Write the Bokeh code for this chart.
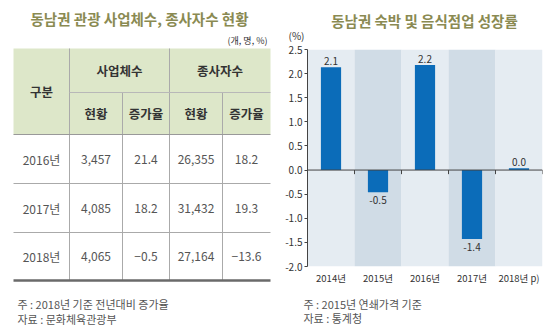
from bokeh.plotting import figure
from bokeh.models import (ColumnDataSource, Range1d, FactorRange, Span,
                          FixedTicker, PrintfTickFormatter)
from bokeh.layouts import row, column
from bokeh.transform import dodge
from bokeh.core.properties import value
from bokeh.embed import file_html
from bokeh.resources import INLINE

FONT = "Noto Sans CJK KR"

# ---------------- data: table ----------------
table_title = "동남권 관광 사업체수, 종사자수 현황"
unit_text = "(개, 명, %)"
group_headers = ["사업체수", "종사자수"]
sub_headers = ["현황", "증가율", "현황", "증가율"]
years = ["2016년", "2017년", "2018년"]
biz_count = [3457, 4085, 4065]
biz_rate = [21.4, 18.2, -0.5]
emp_count = [26355, 31432, 27164]
emp_rate = [18.2, 19.3, -13.6]
table_notes = ["주 : 2018년 기준 전년대비 증가율", "자료 : 문화체육관광부"]

# ---------------- data: chart ----------------
chart_title = "동남권 숙박 및 음식점업 성장률"
unit_chart = "(%)"
categories = ["2014년", "2015년", "2016년", "2017년", "2018년 p)"]
growth = [2.13, -0.46, 2.18, -1.43, 0.04]
y_ticks = [-2.0, -1.5, -1.0, -0.5, 0.0, 0.5, 1.0, 1.5, 2.0, 2.5]
chart_notes = ["주 : 2015년 연쇄가격 기준", "자료 : 통계청"]

TITLE_COLOR = "#8a8a52"
TEXT = "#555555"
DARK = "#333333"


def pixel_fig(w, h):
    f = figure(width=w, height=h, x_range=Range1d(0, w), y_range=Range1d(h, 0),
               output_backend="svg", toolbar_location=None, min_border=0,
               x_axis_location=None, y_axis_location=None)
    f.grid.visible = False
    f.outline_line_color = None
    return f


# =============== left: table ===============
W, H = 275, 331
t = pixel_fig(W, H)

L, R = 13, 270
c1, c2, c3, c4 = 69, 122, 169, 222
top, hmid, hbot = 48, 92, 134
row_lines = [183, 232]
bottom = 280

t.quad(left=L, right=R, top=top, bottom=hbot, fill_color="#dde7c9", line_color=None)

t.segment(x0=[c1, c3, c2, c4], y0=[top, top, hmid, hmid],
          x1=[c1, c3, c2, c4], y1=[bottom] * 4, line_color="#aaaaaa", line_width=1)
t.segment(x0=[c1], y0=[hmid], x1=[R], y1=[hmid], line_color="#b8b8b8", line_width=1)
t.segment(x0=[L], y0=[hbot], x1=[R], y1=[hbot], line_color="#999999", line_width=1)
t.segment(x0=[L] * 2, y0=row_lines, x1=[R] * 2, y1=row_lines, line_color="#aaaaaa", line_width=1)
t.segment(x0=[L], y0=[bottom], x1=[R], y1=[bottom], line_color="#6a6a6a", line_width=2.5)

t.text(x=[139], y=[18], text=[table_title], text_font=value(FONT), text_font_size="14.5px",
       text_color=TITLE_COLOR, text_align="center", text_baseline="middle", text_font_style="bold")
t.text(x=[267], y=[40], text=[unit_text], text_font=value(FONT), text_font_size="9px",
       text_color=DARK, text_align="right", text_baseline="middle")

hdr_font = "12.5px"
t.text(x=[(L + c1) / 2], y=[(top + hbot) / 2], text=["구분"], text_font=value(FONT),
       text_font_size=hdr_font, text_color=DARK, text_align="center", text_baseline="middle",
       text_font_style="bold")
t.text(x=[(c1 + c3) / 2, (c3 + R) / 2], y=[(top + hmid) / 2] * 2, text=group_headers,
       text_font=value(FONT), text_font_size=hdr_font, text_color=DARK, text_align="center",
       text_baseline="middle", text_font_style="bold")
t.text(x=[(c1 + c2) / 2, (c2 + c3) / 2, (c3 + c4) / 2, (c4 + R) / 2], y=[(hmid + hbot) / 2] * 4,
       text=sub_headers, text_font=value(FONT), text_font_size=hdr_font, text_color=DARK,
       text_align="center", text_baseline="middle", text_font_style="bold")

edges = [hbot] + row_lines + [bottom]
row_y = [(edges[i] + edges[i + 1]) / 2 for i in range(len(years))]


def rate(v):
    return f"{v:.1f}".replace("-", "\u2212")


cols = [
    ((L + c1) / 2, years),
    ((c1 + c2) / 2, [f"{v:,}" for v in biz_count]),
    ((c2 + c3) / 2, [rate(v) for v in biz_rate]),
    ((c3 + c4) / 2, [f"{v:,}" for v in emp_count]),
    ((c4 + R) / 2, [rate(v) for v in emp_rate]),
]
for cx, texts in cols:
    t.text(x=[cx] * len(texts), y=row_y, text=texts, text_font=value(FONT), text_font_size="12px",
           text_color=TEXT, text_align="center", text_baseline="middle")

t.text(x=[17, 17], y=[303, 318], text=table_notes, text_font=value(FONT), text_font_size="11px",
       text_color=TEXT, text_align="left", text_baseline="middle")

# =============== right: chart title strip ===============
TOP_H = 42
ct = pixel_fig(275, TOP_H)
ct.text(x=[149], y=[20], text=[chart_title], text_font=value(FONT), text_font_size="14.5px",
        text_color=TITLE_COLOR, text_align="center", text_baseline="middle", text_font_style="bold")
ct.text(x=[13], y=[35], text=[unit_chart], text_font=value(FONT), text_font_size="10px",
        text_color=DARK, text_align="left", text_baseline="middle")

# =============== right: chart ===============
CH_H = 250
c = figure(width=275, height=CH_H, x_range=FactorRange(*categories),
           y_range=Range1d(y_ticks[0], y_ticks[-1]), output_backend="svg",
           toolbar_location=None, min_border_left=32, min_border_right=8,
           min_border_top=7, min_border_bottom=CH_H - 7 - 217)
c.grid.visible = False
c.outline_line_color = None

band_colors = ["#e5ecf2" if i % 2 == 0 else "#d0dce6" for i in range(len(categories))]
c.vbar(x=categories, top=y_ticks[-1], bottom=y_ticks[0], width=1.0,
       fill_color=band_colors, line_color=None)

src = ColumnDataSource(dict(cat=categories, val=growth))
c.vbar(x="cat", top="val", bottom=0, width=0.43, source=src,
       fill_color="#0b6cb9", line_color=None)

c.add_layout(Span(location=0, dimension="width", line_color="#444444", line_width=1))
c.segment(x0=dodge("cat", 0.5, range=c.x_range), y0=0, x1=dodge("cat", 0.5, range=c.x_range),
          y1=-0.085, source=src, line_color="#444444", line_width=1)

pos = ColumnDataSource(dict(cat=[k for k, v in zip(categories, growth) if v >= 0],
                            val=[v for v in growth if v >= 0],
                            lab=[f"{v:.1f}" for v in growth if v >= 0]))
neg = ColumnDataSource(dict(cat=[k for k, v in zip(categories, growth) if v < 0],
                            val=[v for v in growth if v < 0],
                            lab=[f"{v:.1f}" for v in growth if v < 0]))
c.text(x="cat", y="val", text="lab", source=pos, text_font=value(FONT), text_font_size="10px",
       text_color=DARK, text_align="center", text_baseline="bottom", y_offset=-2)
c.text(x="cat", y="val", text="lab", source=neg, text_font=value(FONT), text_font_size="10px",
       text_color=DARK, text_align="center", text_baseline="top", y_offset=4)

c.yaxis.ticker = FixedTicker(ticks=y_ticks)
c.yaxis.formatter = PrintfTickFormatter(format="%.1f")
c.yaxis.minor_tick_line_color = None
c.yaxis.major_tick_in = 0
c.yaxis.major_tick_out = 3
c.yaxis.major_label_standoff = 2
c.yaxis.axis_line_color = "#444444"
c.yaxis.major_tick_line_color = "#444444"
c.yaxis.major_label_text_font = FONT
c.yaxis.major_label_text_font_size = "10px"
c.yaxis.major_label_text_color = DARK

c.xaxis.axis_line_color = None
c.xaxis.major_tick_line_color = None
c.xaxis.minor_tick_line_color = None
c.xaxis.major_tick_out = 0
c.xaxis.major_tick_in = 0
c.xaxis.major_label_standoff = 4
c.xaxis.major_label_text_font = FONT
c.xaxis.major_label_text_font_size = "9.5px"
c.xaxis.major_label_text_color = DARK

# =============== right: notes strip ===============
NOTE_H = 331 - TOP_H - CH_H
cn = pixel_fig(275, NOTE_H)
cn.text(x=[28, 28], y=[11, 25], text=chart_notes, text_font=value(FONT), text_font_size="11px",
        text_color=TEXT, text_align="left", text_baseline="middle")

right = column(row(ct), row(c), row(cn))
layout = row(column(t), right)
open("out.html", "w").write(file_html(layout, INLINE))
